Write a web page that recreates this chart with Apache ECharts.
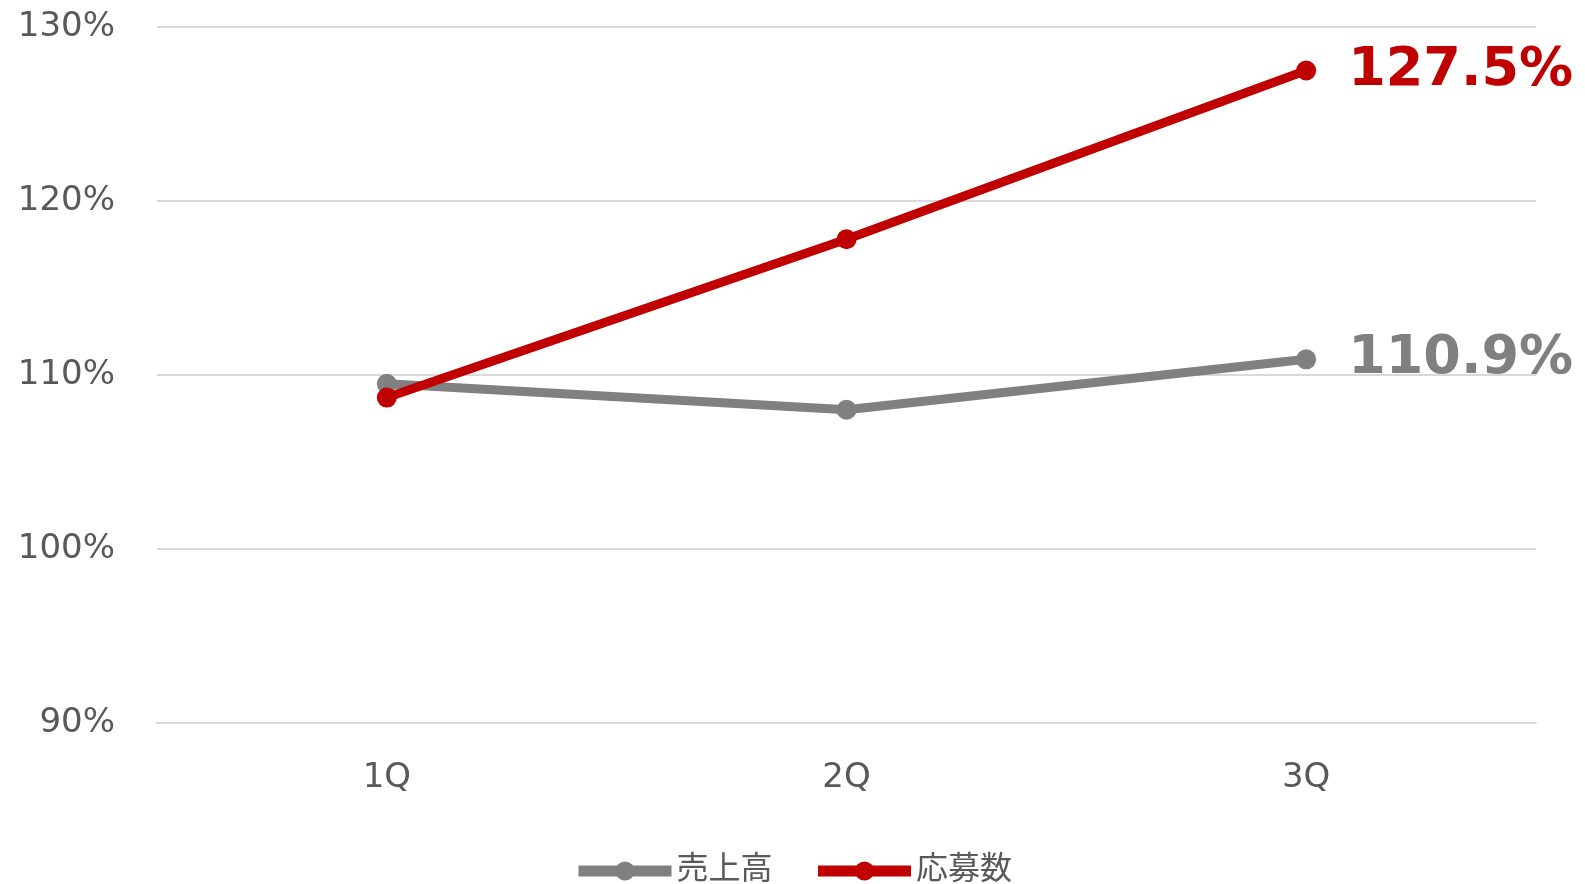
<!DOCTYPE html>
<html>
<head>
<meta charset="utf-8">
<script src="https://cdn.jsdelivr.net/npm/echarts@6/dist/echarts.min.js"></script>
<style>
  html, body { margin: 0; padding: 0; background: #fff; }
  #chart { width: 1585px; height: 884px; }
</style>
</head>
<body>
<div id="chart"></div>
<script>
// 四半期
var categories = ['1Q', '2Q', '3Q'];
// 売上高 (前年比 %)
var salesValues = [109.5, 108.0, 110.9];
// 応募数 (前年比 %)
var applyValues = [108.7, 117.8, 127.5];
var yTicks = { min: 90, max: 130, interval: 10 };

var fontJP = "'DejaVu Sans', 'Noto Sans CJK JP', sans-serif";

// 最後の点だけラベルを出す
function withLastLabel(arr) {
  return arr.map(function (v, i) {
    if (i === arr.length - 1) {
      return { value: v, label: { show: true } };
    }
    return v;
  });
}

var myChart = echarts.init(document.getElementById('chart'));
var option = {
  animation: false,
  textStyle: { fontFamily: fontJP },
  grid: { left: 157, right: 49, top: 27, bottom: 161 },
  legend: {
    top: 850,
    left: 'center',
    itemWidth: 93,
    itemHeight: 24,
    itemGap: 40,
    lineStyle: { width: 11 },
    textStyle: { fontSize: 32, color: '#595959', fontFamily: fontJP },
    data: ['売上高', '応募数']
  },
  xAxis: {
    type: 'category',
    data: categories,
    axisLine: { lineStyle: { color: '#d9d9d9', width: 2 } },
    axisTick: { show: false },
    axisLabel: { fontSize: 34, color: '#595959', margin: 38 }
  },
  yAxis: {
    type: 'value',
    min: yTicks.min,
    max: yTicks.max,
    interval: yTicks.interval,
    axisLine: { show: false },
    axisTick: { show: false },
    axisLabel: { fontSize: 34, color: '#595959', margin: 42, formatter: '{value}%' },
    splitLine: { lineStyle: { color: '#d9d9d9', width: 2 } }
  },
  series: [
    {
      name: '売上高',
      type: 'line',
      data: withLastLabel(salesValues),
      symbol: 'circle',
      symbolSize: 20,
      lineStyle: { color: '#808080', width: 9 },
      itemStyle: { color: '#808080' },
      label: {
        show: false,
        position: 'right',
        distance: 32,
        fontSize: 54,
        fontWeight: 'bold',
        color: '#808080',
        formatter: function (p) { return p.value.toFixed(1) + '%'; }
      }
    },
    {
      name: '応募数',
      type: 'line',
      data: withLastLabel(applyValues),
      symbol: 'circle',
      symbolSize: 20,
      lineStyle: { color: '#c00000', width: 9 },
      itemStyle: { color: '#c00000' },
      label: {
        show: false,
        position: 'right',
        distance: 32,
        fontSize: 54,
        fontWeight: 'bold',
        color: '#c00000',
        formatter: function (p) { return p.value.toFixed(1) + '%'; }
      }
    }
  ]
};
myChart.setOption(option);
</script>
</body>
</html>
